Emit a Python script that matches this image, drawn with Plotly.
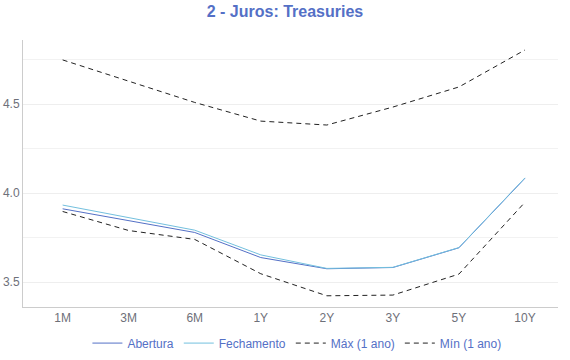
import plotly.graph_objects as go

categories = ["1M", "3M", "6M", "1Y", "2Y", "3Y", "5Y", "10Y"]
abertura = [3.912, 3.845, 3.779, 3.638, 3.575, 3.582, 3.693, 4.084]
fechamento = [3.933, 3.862, 3.792, 3.653, 3.577, 3.583, 3.694, 4.086]
maximo = [4.749, 4.63, 4.51, 4.405, 4.383, 4.484, 4.597, 4.805]
minimo = [3.897, 3.79, 3.74, 3.547, 3.423, 3.427, 3.545, 3.949]

font = "Liberation Sans, Arial, Helvetica, sans-serif"

fig = go.Figure()
fig.add_trace(go.Scatter(x=categories, y=abertura, name="Abertura", mode="lines",
                         line=dict(color="#5470c6", width=1)))
fig.add_trace(go.Scatter(x=categories, y=fechamento, name="Fechamento", mode="lines",
                         line=dict(color="#73c0de", width=1)))
fig.add_trace(go.Scatter(x=categories, y=maximo, name="Máx (1 ano)", mode="lines",
                         line=dict(color="#222222", width=1, dash="5px,4px")))
fig.add_trace(go.Scatter(x=categories, y=minimo, name="Mín (1 ano)", mode="lines",
                         line=dict(color="#222222", width=1, dash="5px,4px")))

fig.update_layout(
    width=570, height=360,
    margin=dict(l=23, r=12, t=40, b=53),
    paper_bgcolor="white", plot_bgcolor="white",
    font=dict(family=font, size=12, color="#6e7079"),
    title=dict(text="<b>2 - Juros: Treasuries</b>", x=0.5, xanchor="center",
               yref="container", y=0.967, yanchor="middle",
               font=dict(family=font, size=16, color="#5470c6")),
    showlegend=True,
    legend=dict(orientation="h", x=0.512, xanchor="center",
                yref="container", y=0.047, yanchor="middle",
                itemwidth=30,
                font=dict(family=font, size=12, color="#5470c6"),
                bgcolor="rgba(0,0,0,0)"),
    xaxis=dict(type="category", range=[-0.6, 7.5], showgrid=False, automargin=False,
               showline=True, linecolor="#cccccc", linewidth=1,
               ticks="", tickfont=dict(size=12, color="#6e7079"), zeroline=False),
    yaxis=dict(range=[3.36, 4.861], tickvals=[3.5, 4.0, 4.5], tickformat=".1f",
               automargin=False,
               showgrid=True, gridcolor="#eeeeee", gridwidth=1,
               minor=dict(dtick=0.25, tick0=0, showgrid=True, gridcolor="#f2f2f2", gridwidth=1),
               showline=True, linecolor="#cccccc", linewidth=1,
               ticks="", ticklabelstandoff=0, zeroline=False,
               tickfont=dict(size=12, color="#6e7079")),
)

fig.write_html("out.html", config={"displayModeBar": False},
               post_script="document.body.style.margin='0';")
